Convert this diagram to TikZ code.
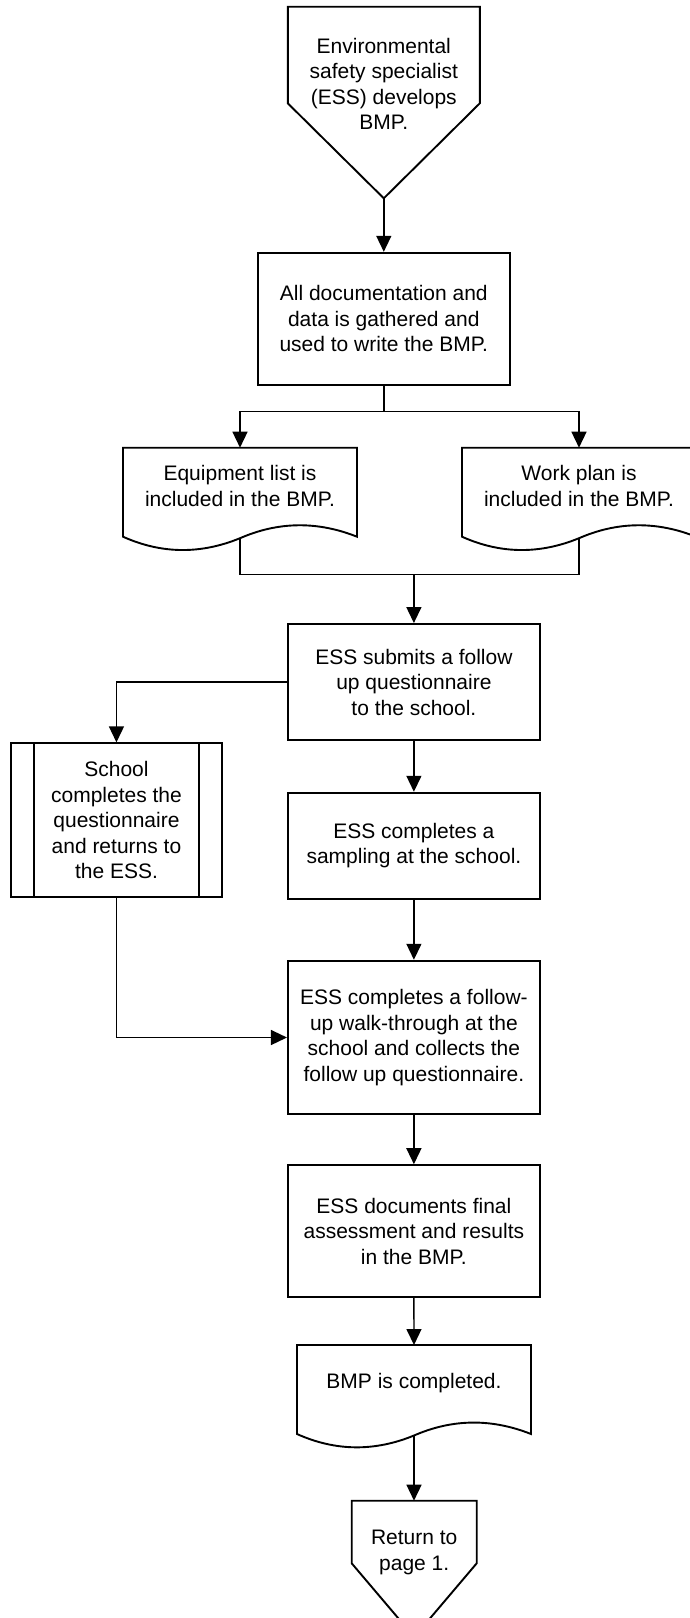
\documentclass[tikz,border=0pt]{standalone}
\usepackage{fontspec}
\setmainfont{Liberation Sans}
\usepackage{tikz}
\usetikzlibrary{arrows.meta}

\tikzset{
  txt/.style={align=center, inner sep=0pt, font=\fontsize{21}{25.5}\selectfont},
  outline/.style={line width=1.9pt},
  box/.style={txt, draw, outline, rectangle, minimum width=252pt, minimum height=#1},
  pics/docsheet/.style={code={
    \draw[outline] (0,0) -- (234,0) -- (234,89) .. controls (195,73.5) and (156,73.5) .. (117,90.5)
      .. controls (78,106.5) and (39,106.5) .. (0,89) -- cycle;
    \coordinate (-top) at (117,0);
    \coordinate (-wave) at (117,90.5);
  }}
}

\begin{document}
\begin{tikzpicture}[line cap=butt,line join=miter,line width=1.4pt,>={Triangle[length=16pt,width=15pt]},x=1pt,y=-1pt]
\useasboundingbox (0,0) rectangle (689,1618);

% start of the page
\draw[outline] (287.8,6.7) -- (479.8,6.7) -- (479.8,103.3) -- (383.8,198.3) -- (287.8,103.3) -- cycle;
\coordinate (startTip) at (383.8,198.3);
\node[txt] (start) at (383.8,84) {Environmental\\safety specialist\\(ESS) develops\\BMP.};

\node[box=132.3pt] (gather) at (383.8,318.9) {All documentation and\\data is gathered and\\used to write the BMP.};

% the two documents
\pic (equip) at (123,447.7) {docsheet};
\node[txt] (equiptext) at (240,486) {Equipment list is\\included in the BMP.};
\pic (plan) at (462,447.7) {docsheet};
\node[txt] (plantext) at (579,486) {Work plan is\\included in the BMP.};

\node[box=116pt] (submit) at (413.9,682) {ESS submits a follow\\up questionnaire\\to the school.};
\node[box=154pt, minimum width=211pt] (school) at (116.45,820.3) {School\\completes the\\questionnaire\\and returns to\\the ESS.};
\draw[outline] ([xshift=23.7pt]school.north west) -- ([xshift=23.7pt]school.south west);
\draw[outline] ([xshift=-23.7pt]school.north east) -- ([xshift=-23.7pt]school.south east);
\node[box=106pt] (sample) at (413.9,845.7) {ESS completes a\\sampling at the school.};
\node[box=153.6pt] (walk) at (413.9,1037.5) {ESS completes a follow-\\up walk-through at the\\school and collects the\\follow up questionnaire.};
\node[box=131.7pt] (final) at (413.9,1231) {ESS documents final\\assessment and results\\in the BMP.};

\pic (done) at (297,1345) {docsheet};
\node[txt] (donetext) at (414,1383) {BMP is completed.};

% end of the page
\draw[outline] (351.7,1500.7) -- (476.7,1500.7) -- (476.7,1563.3) -- (414.2,1637) -- (351.7,1563.3) -- cycle;
\coordinate (backTop) at (414,1500.7);
\node[txt] (back) at (414.2,1552.5) {Return to\\page 1.};

% connectors
\coordinate (split) at (383.8,411.7);
\coordinate (merge) at (413.9,574.3);
\draw[->] (startTip) -- (gather.north);
\draw (gather.south) -- (split);
\draw[->] (split) -| (equip-top);
\draw[->] (split) -| (plan-top);
\draw (equip-wave) |- (merge);
\draw (plan-wave) |- (merge);
\draw[->] (merge) -- (submit.north);
\draw[->] (submit.west) -| (school.north);
\draw[->] (submit.south) -- (sample.north);
\draw[->] (sample.south) -- (walk.north);
\draw[->] (school.south) |- (walk.west);
\draw[->] (walk.south) -- (final.north);
\draw[->] (final.south) -- (done-top);
\draw[->] (done-wave) -- (backTop);
\end{tikzpicture}
\end{document}
